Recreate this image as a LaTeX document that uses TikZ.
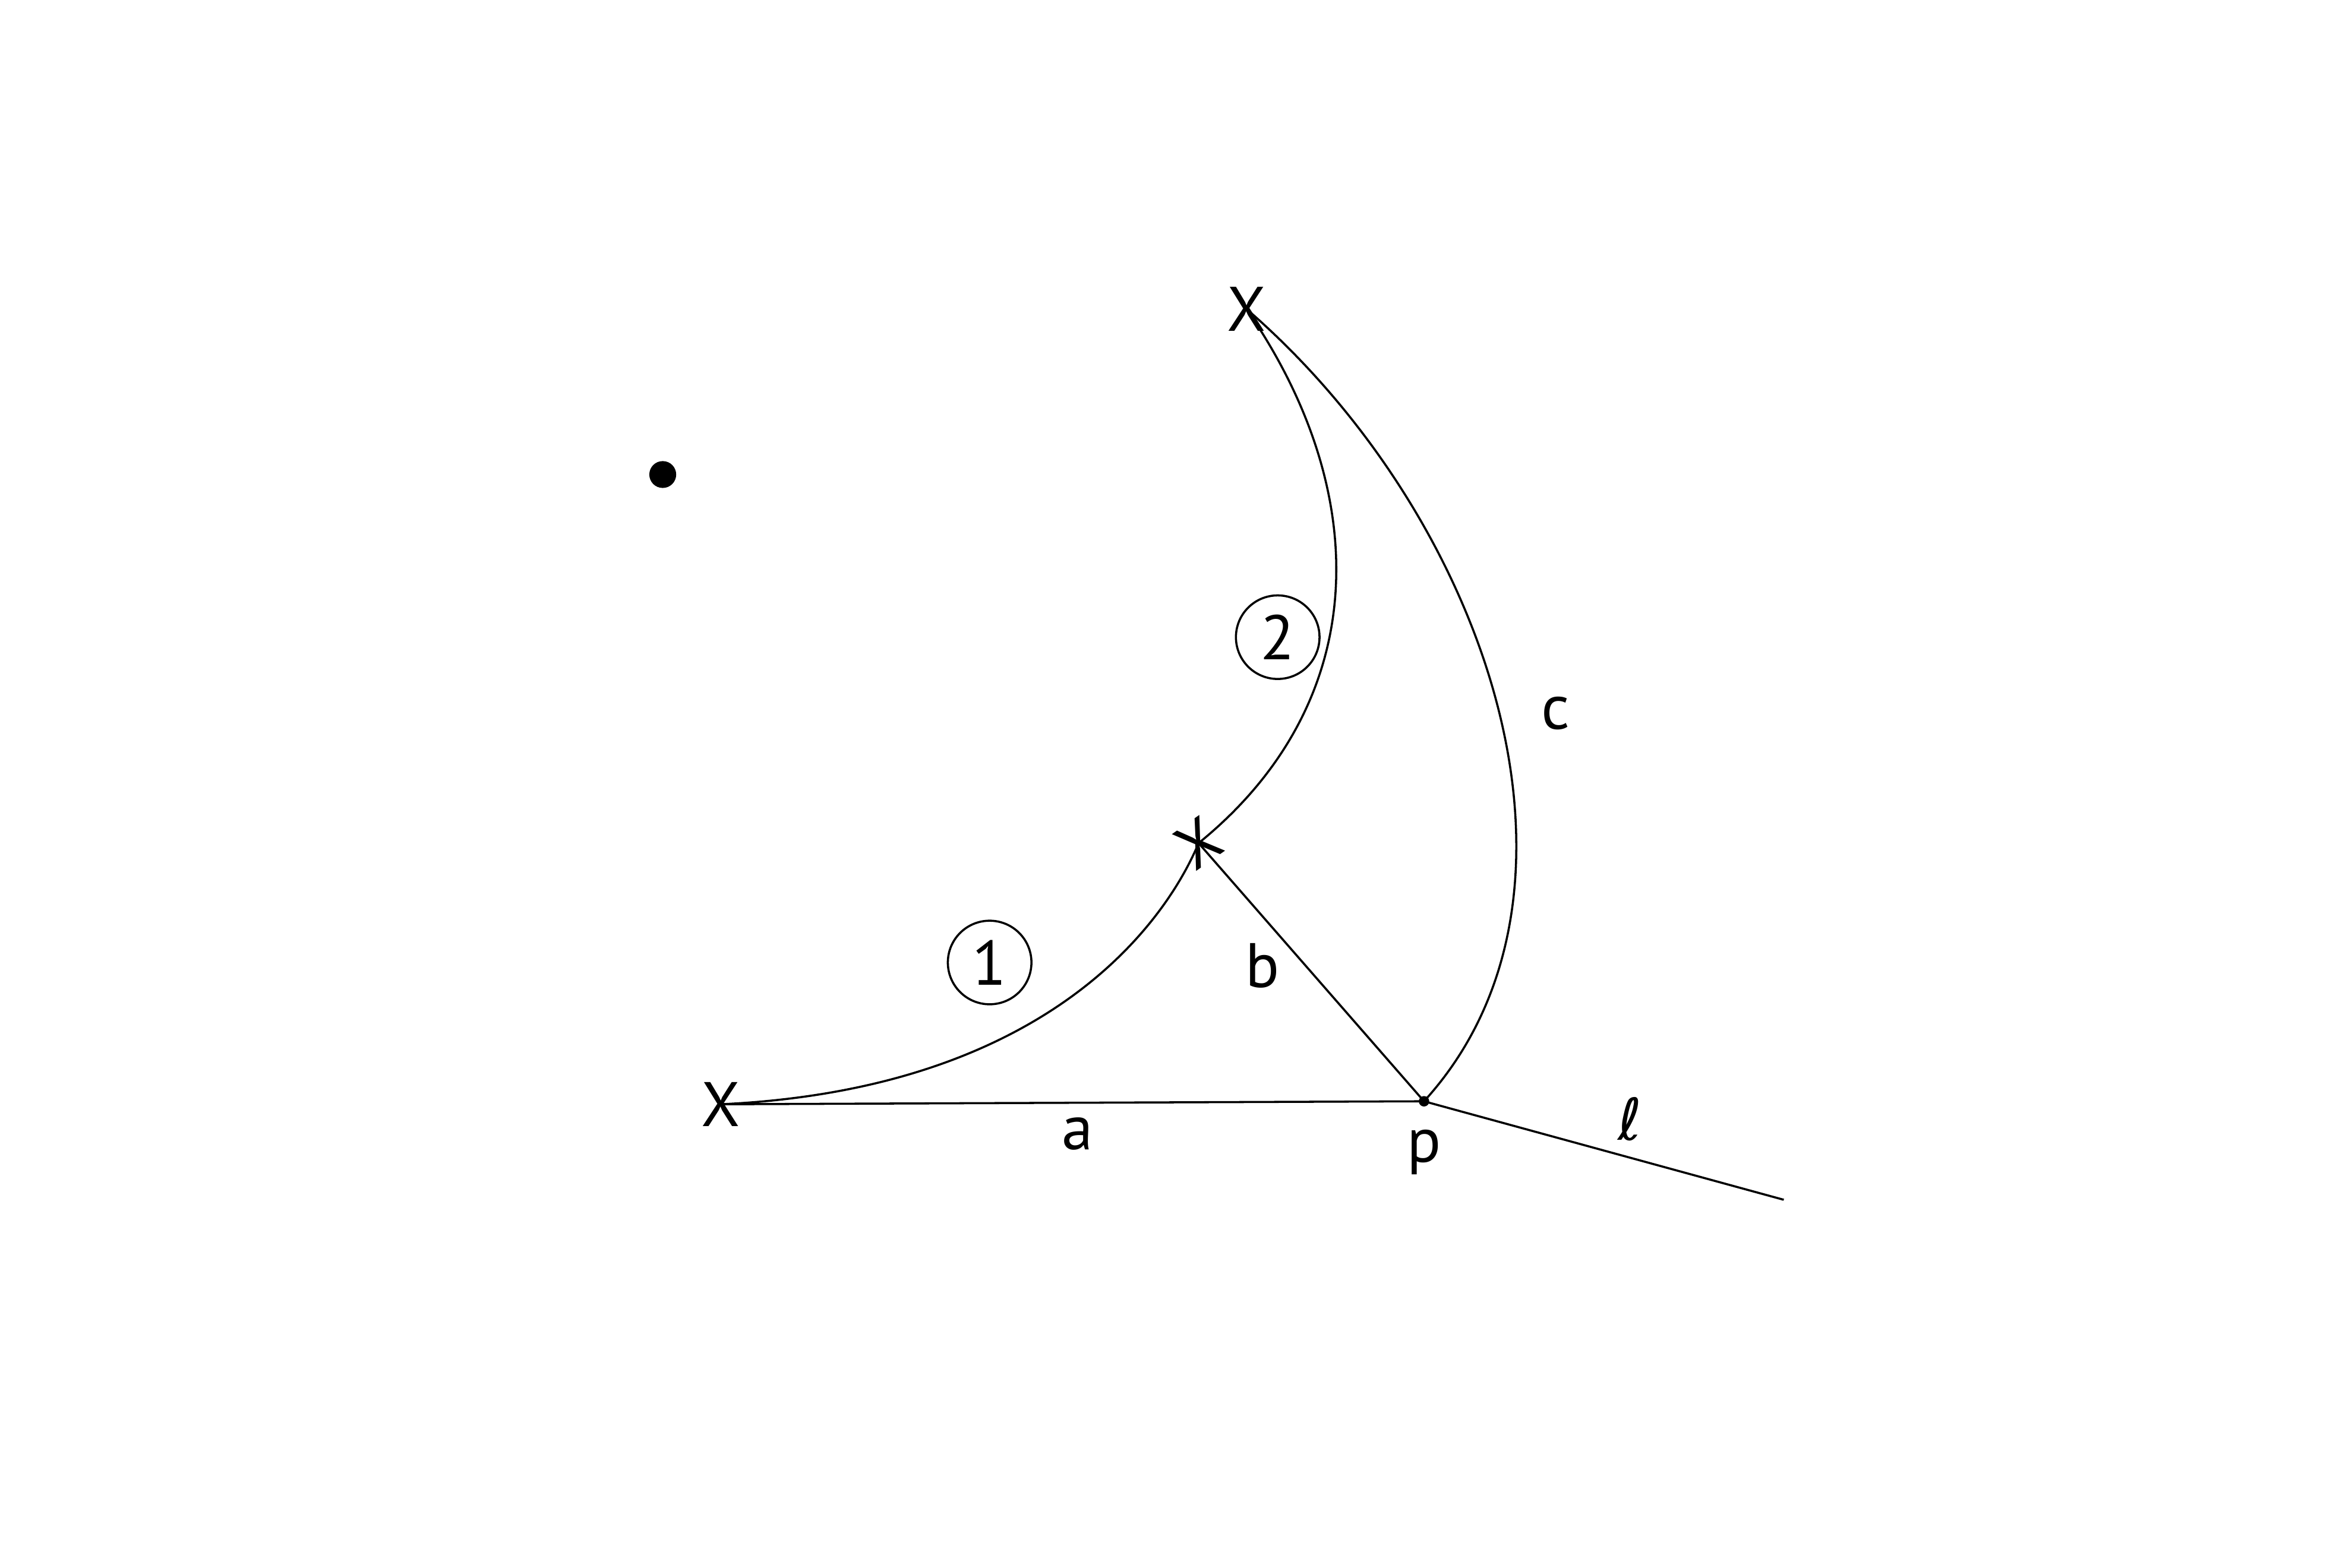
\documentclass[tikz,border=0pt]{standalone}
\usepackage{fontspec}
\setmainfont{PT Sans}
\newfontfamily\ellfont{DejaVu Sans}
\usetikzlibrary{positioning}

\begin{document}
\begin{tikzpicture}[
    lbl/.style={font=\fontsize{12}{14}\selectfont, inner sep=0pt},
    numring/.style={circle, draw, minimum size=0.56cm, inner sep=0pt, font=\fontsize{12}{14}\selectfont},
    dotmark/.style={circle, fill, inner sep=0pt, minimum size=#1}
]
    \useasboundingbox (0,-0.135) rectangle (15.65,10.37);

    % the three X marks, the point p and the lone dot
    \node[lbl] (xl) at (4.83,2.97) {X};
    \node[lbl] (xt) at (8.35,8.30) {X};
    \node[lbl, rotate=35] (xm) at (8.03,4.72) {X};
    \node[dotmark=0.07cm] (p) at (9.54,2.99) {};
    \node[dotmark=0.18cm] (lone) at (4.44,7.19) {};
    \coordinate (lend) at (11.95,2.33);

    % arcs and segments
    \draw (xl.center) .. controls (7.00,3.07) and (7.80,4.17) .. (xm.center);
    \draw (xm.center) .. controls (9.20,5.67) and (9.20,7.07) .. (xt.center);
    \draw (xt.center) .. controls (10.00,6.87) and (10.80,4.37) .. (p.center);
    \draw (xl.center) -- (p.center);
    \draw (xm.center) -- (p.center);
    \draw (p.center) -- (lend);

    % labels
    \node[numring] (one) at (6.63,3.92) {1};
    \node[numring] (two) at (8.56,6.10) {2};
    \node[lbl] (la) at (7.22,2.77) {a};
    \node[lbl] (lb) at (8.46,3.90) {b};
    \node[lbl] (lc) at (10.42,5.59) {c};
    \node[lbl] (lp) at (9.54,2.65) {p};
    \node[lbl, font=\ellfont\fontsize{11}{13}\selectfont] (lell) at (10.92,2.87) {ℓ};
\end{tikzpicture}
\end{document}
